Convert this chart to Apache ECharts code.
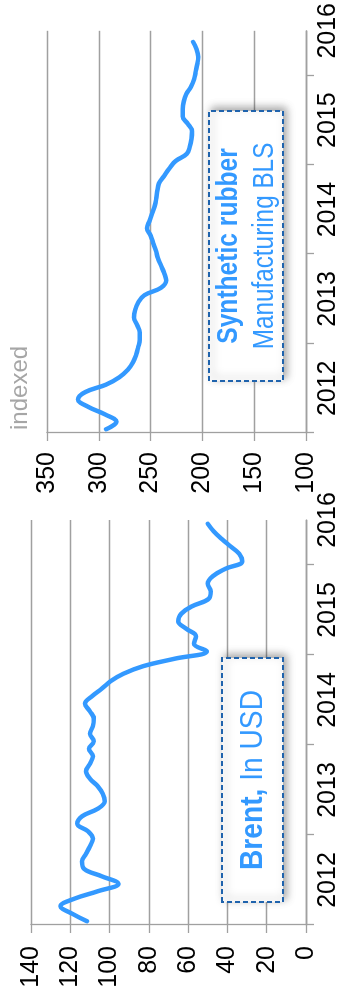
<!DOCTYPE html>
<html><head><meta charset="utf-8">
<script src="https://cdn.jsdelivr.net/npm/echarts@6/dist/echarts.min.js"></script>
<style>
html,body{margin:0;padding:0;background:#fff;overflow:hidden;width:341px;height:994px;}
#wrap{position:absolute;left:0;top:0;width:994px;height:341px;transform-origin:0 0;transform:translateY(994px) rotate(-90deg);}
#chart{width:994px;height:341px;}
</style></head><body>
<div id="wrap"><div id="chart"></div></div>
<script>
// Monthly values, Jan 2012 onwards
const brentUSD = [111.5, 119, 125, 118, 106, 95.5, 104, 113, 114, 112, 110, 108.5,
  111, 116.5, 114, 106, 102.5, 103.5, 106, 110, 112, 110, 108.5, 110.5,
  108, 110, 108.5, 108, 110, 112.5, 109, 104, 99.5, 93, 83, 67,
  50.5, 57, 56, 61, 65, 63.5, 58, 49.5, 48.5, 50, 47.5, 41,
  32.5, 34, 38.5, 43, 47, 50];
const rubberIndex = [293, 283, 294, 310, 320, 313, 293, 280, 272, 267, 264, 262,
  260.5, 260.5, 263, 266, 265, 262, 256, 240, 235, 237, 240, 243,
  245, 247.5, 250, 253.5, 251, 248.5, 246, 244.5, 243.5, 242, 237, 232,
  226, 215, 212, 210.5, 210, 214, 219, 219, 218, 215.5, 211, 208,
  206.5, 205, 204, 205.5, 209];
const yearLabels = ['2012', '2013', '2014', '2015', '2016'];
const startYear = 2012;

const GRAY = '#a0a0a0';
const BLUE = '#3399ff';

function toPoints(arr) { return arr.map((v, i) => [i + 0.5, v]); }
const yearTickPos = [0, 12, 24, 36, 48];
const yearLabelPos = yearLabels.map((y, i) => 6 + 12 * i);

function xAxisCfg(gi) {
  return {
    type: 'value', gridIndex: gi, min: 0, max: 54,
    splitLine: { show: false },
    axisLine: { show: true, lineStyle: { color: GRAY, width: 1.3 } },
    axisTick: { show: true, length: 8, lineStyle: { color: GRAY, width: 1.3 }, customValues: yearTickPos },
    axisLabel: {
      show: true, customValues: yearLabelPos, margin: 10,
      fontFamily: 'Liberation Sans, Arial, sans-serif', fontSize: 25, color: '#000',
      formatter: v => String(startYear + Math.round((v - 6) / 12))
    }
  };
}
function yAxisCfg(gi, min, max, interval, margin) {
  return {
    type: 'value', gridIndex: gi, min: min, max: max, interval: interval,
    splitLine: { show: true, lineStyle: { color: GRAY, width: 1.3 } },
    axisLine: { show: true, lineStyle: { color: GRAY, width: 1.3 } },
    axisTick: { show: true, length: 8, lineStyle: { color: GRAY, width: 1.3 } },
    axisLabel: { margin: margin, fontFamily: 'Liberation Sans, Arial, sans-serif', fontSize: 25, color: '#000' }
  };
}
function lineSeries(gi, data) {
  return {
    type: 'line', xAxisIndex: gi, yAxisIndex: gi, data: toPoints(data),
    smooth: 0.4, showSymbol: false, symbol: 'none',
    lineStyle: { color: BLUE, width: 4.5, cap: 'round', join: 'round' },
    z: 3
  };
}

const chart = echarts.init(document.getElementById('chart'), null, { renderer: 'canvas', width: 994, height: 341 });
const boxStyle = {
  fill: '#fff', stroke: '#1f63ad', lineWidth: 2, lineDash: [5, 3],
  shadowBlur: 8, shadowColor: 'rgba(0,0,0,0.35)', shadowOffsetX: 3, shadowOffsetY: 3
};
chart.setOption({
  animation: false,
  backgroundColor: '#fff',
  grid: [
    { left: 69, top: 31, width: 405, height: 281 },
    { left: 561, top: 47, width: 416, height: 260 }
  ],
  xAxis: [xAxisCfg(0), xAxisCfg(1)],
  yAxis: [yAxisCfg(0, 0, 140, 20, 21), yAxisCfg(1, 100, 350, 50, 19)],
  series: [lineSeries(0, brentUSD), lineSeries(1, rubberIndex)],
  graphic: [
    { type: 'rect', z: 10, shape: { x: 92, y: 222, width: 244, height: 61 }, style: boxStyle },
    { type: 'text', z: 11, x: 214, y: 253, scaleX: 0.88,
      style: { text: '{b|Brent,}{r| In USD}', align: 'center', verticalAlign: 'middle',
        rich: {
          b: { fontFamily: 'Liberation Sans, Arial, sans-serif', fontWeight: 'bold', fontSize: 32, fill: BLUE, color: BLUE },
          r: { fontFamily: 'Liberation Sans, Arial, sans-serif', fontSize: 32, fill: BLUE, color: BLUE }
        } } },
    { type: 'rect', z: 10, shape: { x: 613, y: 209, width: 270, height: 74 }, style: boxStyle },
    { type: 'text', z: 11, x: 748, y: 229, scaleX: 0.82,
      style: { text: 'Synthetic rubber', align: 'center', verticalAlign: 'middle',
        font: 'bold 30px "Liberation Sans", Arial, sans-serif', fill: BLUE } },
    { type: 'text', z: 11, x: 748, y: 265, scaleX: 0.81,
      style: { text: 'Manufacturing BLS', align: 'center', verticalAlign: 'middle',
        font: '30px "Liberation Sans", Arial, sans-serif', fill: BLUE } },
    { type: 'text', z: 11, x: 564, y: 20,
      style: { text: 'indexed', align: 'left', verticalAlign: 'middle',
        font: '24px "Liberation Sans", Arial, sans-serif', fill: '#a6a6a6' } }
  ]
});
</script>
</body></html>
